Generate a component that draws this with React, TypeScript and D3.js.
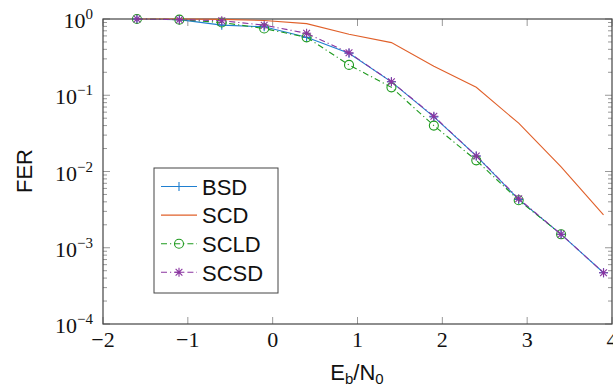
import * as d3 from 'd3';

// Eb/N0 sample points (dB)
const ebn0 = [-1.6, -1.1, -0.6, -0.1, 0.4, 0.9, 1.4, 1.9, 2.4, 2.9, 3.4, 3.9];

const bsd = [1.0, 0.98, 0.83, 0.79, 0.575, 0.355, 0.15, 0.052, 0.016, 0.0043, 0.0015, 0.00047];
const scd = [1.0, 1.0, 0.99, 0.955, 0.87, 0.63, 0.49, 0.24, 0.127, 0.043, 0.0115, 0.0027];
const scld = [1.0, 0.98, 0.9, 0.75, 0.575, 0.25, 0.127, 0.040, 0.014, 0.0042, 0.0015];
const scsd = [1.0, 0.98, 0.95, 0.83, 0.65, 0.36, 0.15, 0.053, 0.016, 0.0044, 0.0015, 0.00047];

const xTicks = [-2, -1, 0, 1, 2, 3, 4];
const yExponents = [0, -1, -2, -3, -4];

type Marker = 'plus' | 'none' | 'circle' | 'star';
type Series = { name: string; values: number[]; color: string; dash?: string; marker: Marker };

const series: Series[] = [
  { name: 'BSD', values: bsd, color: '#1f7fd0', marker: 'plus' },
  { name: 'SCD', values: scd, color: '#e0602a', marker: 'none' },
  { name: 'SCLD', values: scld, color: '#1e9a1e', dash: '6 3 1.2 3', marker: 'circle' },
  { name: 'SCSD', values: scsd, color: '#8a34a0', dash: '6 3 1.2 3', marker: 'star' },
];

const W = 613;
const H = 389;
const left = 103, right = 612, top = 19, bottom = 324;

const x = d3.scaleLinear().domain([-2, 4]).range([left, right]);
const y = d3.scaleLog().domain([1e-4, 1]).range([bottom, top]);
const line = d3.line<[number, number]>().x(d => x(d[0])).y(d => y(d[1]));

const axisColor = '#444';
const tickColor = '#999';
const serif = 'Liberation Serif';
const sans = 'Liberation Sans';

function MarkerGlyph({ kind, cx, cy, color }: { kind: Marker; cx: number; cy: number; color: string }) {
  const s = 4.5;
  if (kind === 'none') return null;
  if (kind === 'circle') {
    return <circle cx={cx} cy={cy} r={s} stroke={color} strokeWidth={1.1} fill="none" />;
  }
  let d = `M${cx - s},${cy}H${cx + s}M${cx},${cy - s}V${cy + s}`;
  if (kind === 'star') {
    const k = s * 0.75;
    d += `M${cx - k},${cy - k}L${cx + k},${cy + k}M${cx - k},${cy + k}L${cx + k},${cy - k}`;
  }
  return <path d={d} stroke={color} strokeWidth={1.1} fill="none" />;
}

const fmt = (n: number) => (n < 0 ? `\u2212${Math.abs(n)}` : `${n}`);

export default function App() {
  const minor: number[] = [];
  yExponents.forEach(e => {
    if (e > -4) for (let m = 2; m <= 9; m++) minor.push(m * Math.pow(10, e - 1));
  });

  return (
    <svg width={W} height={H} style={{ position: 'absolute', left: 0, top: 0, background: '#fff' }}>
      {/* ticks */}
      <g stroke={tickColor} strokeWidth={1}>
        {xTicks.map(t => (
          <g key={`xt${t}`}>
            <line x1={x(t)} x2={x(t)} y1={bottom} y2={bottom - 7} />
            <line x1={x(t)} x2={x(t)} y1={top} y2={top + 7} />
          </g>
        ))}
        {yExponents.map(e => {
          const py = y(Math.pow(10, e));
          return (
            <g key={`yt${e}`}>
              <line x1={left} x2={left + 7} y1={py} y2={py} />
              <line x1={right} x2={right - 7} y1={py} y2={py} />
            </g>
          );
        })}
        {minor.map((v, i) => (
          <g key={`mt${i}`}>
            <line x1={left} x2={left + 4} y1={y(v)} y2={y(v)} />
            <line x1={right} x2={right - 4} y1={y(v)} y2={y(v)} />
          </g>
        ))}
      </g>

      <rect x={left} y={top} width={right - left} height={bottom - top} fill="none" stroke={axisColor} strokeWidth={1.2} />

      {/* tick labels */}
      {xTicks.map(t => (
        <text key={`xl${t}`} x={x(t)} y={347} textAnchor="middle" fill="#111"
          style={{ fontFamily: serif, fontSize: '22px' }}>{fmt(t)}</text>
      ))}
      {yExponents.map(e => (
        <text key={`yl${e}`} x={93} y={y(Math.pow(10, e)) + 9} textAnchor="end" fill="#111"
          style={{ fontFamily: serif, fontSize: '22px' }}>
          <tspan>10</tspan>
          <tspan dy={-9} style={{ fontSize: '15px' }}>{fmt(e)}</tspan>
        </text>
      ))}

      {/* series */}
      {series.map(s => {
        const pts: [number, number][] = s.values.map((v, i) => [ebn0[i], v]);
        return (
          <g key={s.name}>
            <path d={line(pts) ?? ''} fill="none" stroke={s.color} strokeWidth={1.1} strokeDasharray={s.dash} />
            {pts.map((p, i) => (
              <MarkerGlyph key={i} kind={s.marker} cx={x(p[0])} cy={y(p[1])} color={s.color} />
            ))}
          </g>
        );
      })}

      {/* axis labels */}
      <text transform="translate(32,171) rotate(-90)" textAnchor="middle" fill="#111"
        style={{ fontFamily: sans, fontSize: '22px' }}>FER</text>
      <text x={357} y={380} textAnchor="middle" fill="#111" style={{ fontFamily: sans, fontSize: '22px' }}>
        <tspan>E</tspan>
        <tspan dy={4} style={{ fontSize: '15px' }}>b</tspan>
        <tspan dy={-4}>/N</tspan>
        <tspan dy={4} style={{ fontSize: '15px' }}>0</tspan>
      </text>

      {/* legend */}
      <g>
        <rect x={154} y={168} width={124} height={125} fill="#fff" stroke={axisColor} strokeWidth={1} />
        {series.map((s, i) => {
          const cy = 186.5 + i * 28.6;
          return (
            <g key={`lg${s.name}`}>
              <line x1={161} x2={197} y1={cy} y2={cy} stroke={s.color} strokeWidth={1.1} strokeDasharray={s.dash} />
              <MarkerGlyph kind={s.marker} cx={179} cy={cy} color={s.color} />
              <text x={202} y={cy + 8.3} fill="#111" style={{ fontFamily: sans, fontSize: '22px' }}>{s.name}</text>
            </g>
          );
        })}
      </g>
    </svg>
  );
}
